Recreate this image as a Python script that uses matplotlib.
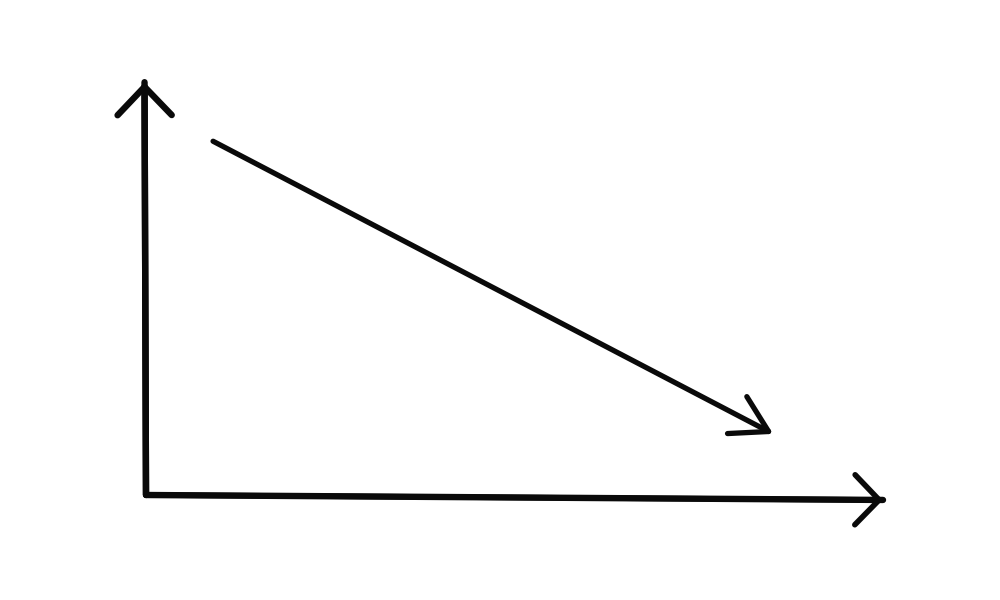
import matplotlib
matplotlib.use("Agg")
import matplotlib.pyplot as plt

# sketch values (abstract units, origin at the axes corner)
origin = (0.0, 0.0)
x_axis_tip = (10.0, -0.12)
y_axis_tip = (-0.02, 10.0)
trend_start = (0.91, 8.57)
trend_end = (8.51, 1.48)

INK = "#0a0a0a"

fig = plt.figure(figsize=(10, 6), dpi=100)
ax = fig.add_axes([0.146, 0.175, 0.737, 0.688])
ax.set_xlim(0, 10)
ax.set_ylim(0, 10)
ax.axis("off")


def arrow(ax, start, end, lw, hl, hw):
    ax.annotate("", xy=end, xytext=start,
                arrowprops=dict(arrowstyle=f"->,head_length={hl},head_width={hw}",
                                lw=lw, color=INK, shrinkA=0, shrinkB=0,
                                mutation_scale=30, capstyle="round",
                                joinstyle="round"),
                annotation_clip=False)


# axes drawn as an L with a rounded corner
ax.plot([y_axis_tip[0], origin[0], x_axis_tip[0]],
        [y_axis_tip[1], origin[1], x_axis_tip[1]],
        color=INK, lw=4.6, solid_joinstyle="round", solid_capstyle="round",
        clip_on=False)
arrow(ax, origin, y_axis_tip, 4.6, 0.68, 0.65)
arrow(ax, origin, x_axis_tip, 4.0, 0.58, 0.6)

# falling trend
arrow(ax, trend_start, trend_end, 3.8, 0.85, 0.5)

fig.savefig("out.png", dpi=100, facecolor="white")
